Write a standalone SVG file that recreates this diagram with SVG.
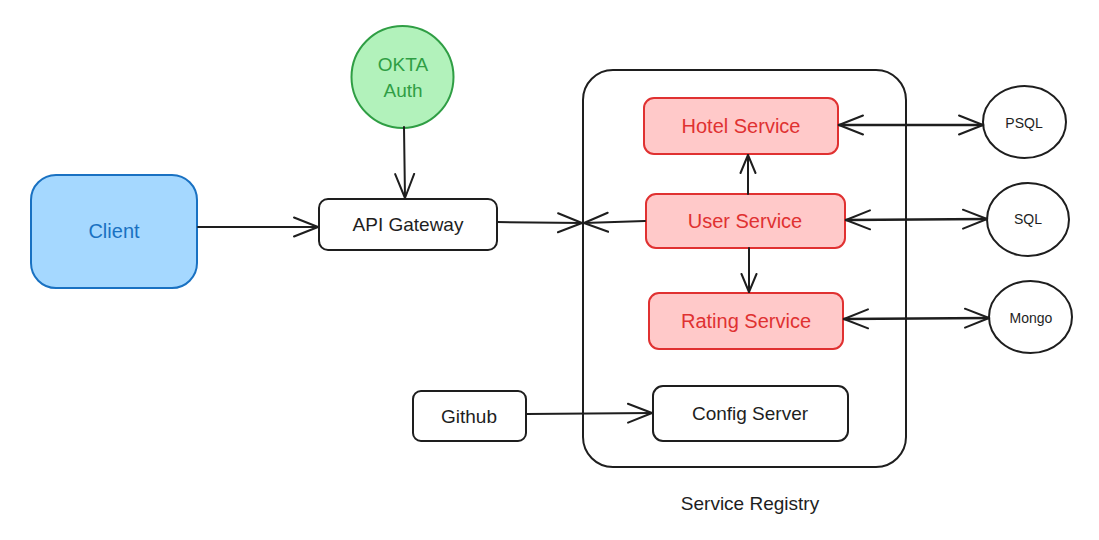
<svg xmlns="http://www.w3.org/2000/svg" width="1099" height="540" viewBox="0 0 1099 540">
<style>
text{font-family:"Liberation Sans",Arial,sans-serif;text-anchor:middle;dominant-baseline:central}
.box{fill:#fff;stroke:#1e1e1e;stroke-width:2}
.svc{fill:#ffc9c9;stroke:#e03131;stroke-width:2}
.svct{fill:#e03131;font-size:20px}
.blk{fill:#1e1e1e;font-size:19px}
.db{fill:#1e1e1e;font-size:14px}
.conn path{fill:none;stroke:#1e1e1e;stroke-width:2;stroke-linecap:round}
.conn path.thick{stroke-width:2.6}
</style>
<defs>
<marker id="ah" viewBox="0 0 26 22" refX="25" refY="11" markerWidth="26" markerHeight="22" markerUnits="userSpaceOnUse" orient="auto-start-reverse">
<path d="M1,1.5 L25,11 L1,20.5" fill="none" stroke="#1e1e1e" stroke-width="2" stroke-linecap="round" stroke-linejoin="round"/>
</marker>
<marker id="ahs" viewBox="0 0 20 18" refX="19" refY="9" markerWidth="20" markerHeight="18" markerUnits="userSpaceOnUse" orient="auto-start-reverse">
<path d="M1,1.5 L19,9 L1,16.5" fill="none" stroke="#1e1e1e" stroke-width="2" stroke-linecap="round" stroke-linejoin="round"/>
</marker>
</defs>
<rect width="1099" height="540" fill="#fff"/>
<g id="registry">
<rect x="583" y="70" width="323" height="397" rx="30" fill="none" stroke="#1e1e1e" stroke-width="2"/>
<text x="750" y="503" class="blk">Service Registry</text>
</g>
<g id="client">
<rect x="31" y="175" width="166" height="113" rx="25" fill="#a5d8ff" stroke="#1971c2" stroke-width="2"/>
<text x="114" y="231" fill="#1971c2" font-size="20">Client</text>
</g>
<g id="okta">
<circle cx="402.5" cy="77" r="51" fill="#b2f2bb" stroke="#2f9e44" stroke-width="2"/>
<text x="403" y="64" fill="#2f9e44" font-size="19">OKTA</text>
<text x="403" y="90" fill="#2f9e44" font-size="19">Auth</text>
</g>
<g id="api-gateway">
<rect x="319" y="199" width="178" height="51" rx="9" class="box"/>
<text x="408" y="224" class="blk">API Gateway</text>
</g>
<g id="hotel-service">
<rect x="644" y="98" width="194" height="56" rx="10" class="svc"/>
<text x="741" y="126" class="svct">Hotel Service</text>
</g>
<g id="user-service">
<rect x="646" y="194" width="199" height="54" rx="10" class="svc"/>
<text x="745" y="221" class="svct">User Service</text>
</g>
<g id="rating-service">
<rect x="649" y="293" width="194" height="56" rx="10" class="svc"/>
<text x="746" y="321" class="svct">Rating Service</text>
</g>
<g id="config-server">
<rect x="653" y="386" width="195" height="55" rx="10" class="box"/>
<text x="750" y="413" class="blk">Config Server</text>
</g>
<g id="github">
<rect x="413" y="391" width="113" height="50" rx="8" class="box"/>
<text x="469" y="416" class="blk">Github</text>
</g>
<g id="psql">
<ellipse cx="1024.5" cy="122" rx="41.5" ry="36" class="box"/>
<text x="1024" y="123" class="db">PSQL</text>
</g>
<g id="sql">
<ellipse cx="1028" cy="219.5" rx="41" ry="36.5" class="box"/>
<text x="1028" y="219" class="db">SQL</text>
</g>
<g id="mongo">
<ellipse cx="1030.5" cy="317" rx="41.5" ry="36" class="box"/>
<text x="1031" y="318" class="db">Mongo</text>
</g>
<g class="conn" id="connectors">
<path d="M404,127 L405,198" marker-end="url(#ah)"/>
<path d="M198,227 L318,227" marker-end="url(#ah)"/>
<path d="M497,222 L582,223" marker-end="url(#ah)"/>
<path d="M645,221 L584,223" marker-end="url(#ah)"/>
<path d="M748,194 L748,155" marker-end="url(#ahs)"/>
<path d="M749,248 L749,292" marker-end="url(#ahs)"/>
<path class="thick" d="M839,125 L983,125" marker-start="url(#ah)" marker-end="url(#ah)"/>
<path class="thick" d="M846,220 L987,219" marker-start="url(#ah)" marker-end="url(#ah)"/>
<path class="thick" d="M844,319 L989,318" marker-start="url(#ah)" marker-end="url(#ah)"/>
<path d="M527,414 L652,413" marker-end="url(#ah)"/>
</g>
</svg>
